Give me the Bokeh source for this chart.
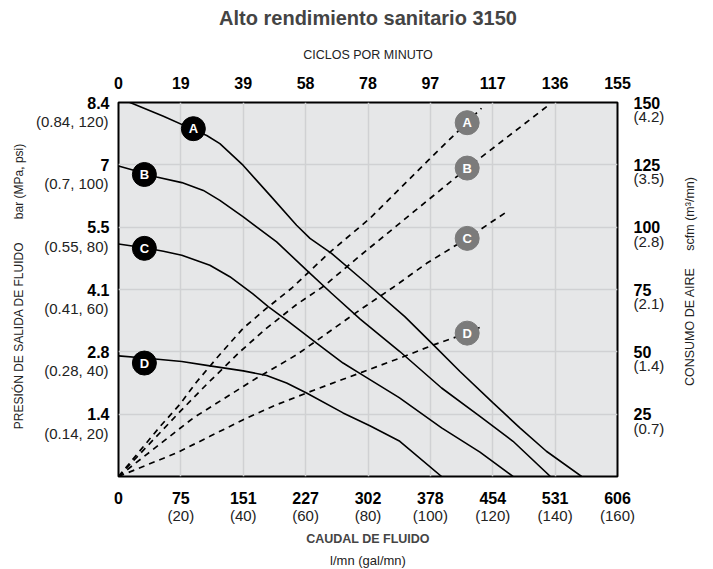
import math
from bokeh.plotting import figure
from bokeh.models import Range1d, LinearAxis, FixedTicker, Title
from bokeh.core.properties import value
from bokeh.embed import file_html
from bokeh.resources import INLINE

# ---------------- data ----------------
flow_gpm_ticks = [0, 20, 40, 60, 80, 100, 120, 140, 160]
flow_lpm_labels = ["0", "75", "151", "227", "302", "378", "454", "531", "606"]
flow_gpm_labels = ["", "(20)", "(40)", "(60)", "(80)", "(100)", "(120)", "(140)", "(160)"]
cycles_labels = ["0", "19", "39", "58", "78", "97", "117", "136", "155"]

psi_ticks = [20, 40, 60, 80, 100, 120]
bar_labels = ["1.4", "2.8", "4.1", "5.5", "7", "8.4"]
mpa_psi_labels = ["(0.14, 20)", "(0.28, 40)", "(0.41, 60)", "(0.55, 80)", "(0.7, 100)", "(0.84, 120)"]

scfm_ticks = [25, 50, 75, 100, 125, 150]
scfm_labels = ["25", "50", "75", "100", "125", "150"]
m3_labels = ["(0.7)", "(1.4)", "(2.1)", "(2.8)", "(3.5)", "(4.2)"]

# fluid pressure curves (gal/min, psi)
pres_A_flow = [0, 3.7, 14.4, 24, 28.3, 32.5, 40, 48.6, 57.1, 61.4, 68.3, 79.5, 91.8, 100.4, 109.5, 120.1, 128.7, 137.2, 148.5]
pres_A_psi = [121.5, 120, 115.6, 111.3, 109.4, 106.8, 99.8, 90.2, 80.6, 76.4, 71.6, 62.0, 51.3, 42.8, 33.7, 23.6, 15.6, 8.1, 0]
pres_B_flow = [0, 8.3, 12.2, 20.3, 27.2, 32.5, 40, 50.7, 60.3, 68.3, 77.5, 90.2, 103.6, 115.9, 126.5, 138.5]
pres_B_psi = [99.6, 97.3, 96.1, 94.3, 91.8, 88.6, 83.3, 75.3, 66.2, 58.8, 50.5, 40.1, 28.4, 19.3, 11.3, 0]
pres_C_flow = [0, 8.3, 14.4, 20.3, 29.3, 35.7, 43.2, 48, 53.9, 63.5, 72, 77.5, 90, 103.6, 115.9, 126.5]
pres_C_psi = [74.6, 73.4, 72.3, 71.0, 67.8, 64.1, 58.5, 54.5, 50.2, 42.8, 36.4, 33.0, 25.3, 15.6, 7.8, 0]
pres_D_flow = [0, 8.3, 20.3, 29.3, 40, 47.5, 53.9, 60.3, 72, 80.6, 90.2, 103.6]
pres_D_psi = [38.7, 38.0, 36.9, 35.5, 33.9, 32.4, 30.0, 26.8, 20.4, 16.3, 11.3, 0]

# air consumption curves (gal/min, scfm)
air_A_flow = [0, 13.3, 19.7, 25.1, 31.5, 40, 47.5, 55.5, 67.8, 80.6, 99.3, 116.4]
air_A_scfm = [0, 20, 29, 38, 47.5, 59.5, 67.5, 75.5, 90, 103.5, 126.8, 147.7]
air_B_flow = [0, 19.7, 28.3, 38.9, 47.5, 57.1, 66, 77.4, 111.8, 138.5]
air_B_scfm = [0, 26, 37, 50, 59.5, 69, 76.5, 88.5, 123.7, 149.5]
air_C_flow = [0, 24, 44.3, 57.1, 77.4, 88, 98.8, 111.8, 124.4]
air_C_scfm = [0, 23.5, 39.5, 48.8, 66.8, 75.8, 85.5, 95.5, 106.1]
air_D_flow = [0, 18.7, 29.3, 40, 50.7, 60.3, 72, 80.6, 91.3, 100.4, 111.8, 117.1]
air_D_scfm = [0, 9.5, 16.1, 22.8, 28.8, 33.5, 39.0, 43.0, 48.0, 52.5, 57.5, 60.5]

# curve markers
curve_letters = ["A", "B", "C", "D"]
pres_mark_flow = [24, 8.3, 8.3, 8.3]
pres_mark_psi = [111.6, 96.9, 73.2, 36.4]
air_mark_flow = [111.8, 111.8, 111.8, 111.8]
air_mark_scfm = [141.9, 123.7, 95.5, 57.5]

# right-hand axis title (starts at this pressure level, reads upward)
air_title = "CONSUMO DE AIRE" + "\u00a0" * 5 + "scfm (m³/mn)"
air_title_start_psi = 29

# ---------------- style ----------------
SANS = "Liberation Sans"
NB = "\u00a0"
PSI_SHIFT = 6.08     # 19 px at 120 psi / 375 px
SCFM_SHIFT = 5.6     # 14 px at 150 scfm / 375 px

p = figure(width=712, height=568, x_range=Range1d(0, 160), y_range=Range1d(0, 120),
           x_axis_location=None, y_axis_location=None,
           output_backend="svg", toolbar_location=None,
           min_border_left=118, min_border_right=95, min_border_top=102, min_border_bottom=91)
p.extra_y_ranges = {
    "scfm": Range1d(0, 150),
    "psi_sub": Range1d(PSI_SHIFT, 120 + PSI_SHIFT),
    "scfm_sub": Range1d(SCFM_SHIFT, 150 + SCFM_SHIFT),
}
p.background_fill_color = "#e6e7e8"
p.border_fill_color = "white"
p.outline_line_color = "black"
p.outline_line_width = 2
p.xgrid.ticker = FixedTicker(ticks=flow_gpm_ticks[1:-1])
p.ygrid.ticker = FixedTicker(ticks=psi_ticks[:-1])
p.grid.grid_line_color = "#d0d1d3"
p.grid.grid_line_width = 1.5


def style_axis(ax, bold, size, color="black"):
    ax.axis_line_color = None
    ax.major_tick_line_color = None
    ax.minor_tick_line_color = None
    ax.major_tick_out = 0
    ax.major_tick_in = 0
    ax.minor_tick_out = 0
    ax.major_label_text_font = SANS
    ax.major_label_text_font_size = size
    ax.major_label_text_font_style = "bold" if bold else "normal"
    ax.major_label_text_color = color
    ax.axis_label_text_font = SANS
    ax.axis_label_text_font_style = "normal"
    ax.axis_label_text_color = "#222222"
    ax.axis_label_text_font_size = "12px"


# bottom axes
ax_b1 = LinearAxis(ticker=FixedTicker(ticks=flow_gpm_ticks),
                   major_label_overrides=dict(zip(flow_gpm_ticks, flow_lpm_labels)))
style_axis(ax_b1, True, "16px")
ax_b1.major_label_standoff = 15
ax_b2 = LinearAxis(ticker=FixedTicker(ticks=flow_gpm_ticks),
                   major_label_overrides=dict(zip(flow_gpm_ticks, flow_gpm_labels)))
style_axis(ax_b2, False, "15px", "#222222")
ax_b2.major_label_standoff = 0
p.add_layout(ax_b1, "below")
p.add_layout(ax_b2, "below")
p.add_layout(Title(text="CAUDAL DE FLUIDO", align="center", vertical_align="middle", standoff=9,
                   text_font=SANS, text_font_style="bold", text_font_size="12.5px"), "below")
p.add_layout(Title(text="l/mn (gal/mn)", align="center", vertical_align="middle", standoff=0,
                   text_font=SANS, text_font_style="normal", text_font_size="13px",
                   text_color="#222222"), "below")

# top axis
ax_t = LinearAxis(ticker=FixedTicker(ticks=flow_gpm_ticks),
                  major_label_overrides=dict(zip(flow_gpm_ticks, cycles_labels)))
style_axis(ax_t, True, "16px")
ax_t.major_label_standoff = 14
p.add_layout(ax_t, "above")
p.add_layout(Title(text="CICLOS POR MINUTO", align="center", vertical_align="bottom", standoff=24,
                   text_font=SANS, text_font_style="normal", text_font_size="12.5px",
                   text_color="#222222"), "above")
p.add_layout(Title(text="Alto rendimiento sanitario 3150", align="center", vertical_align="top", standoff=6,
                   text_font=SANS, text_font_style="bold", text_font_size="20px"), "above")

# left axes: bar (bold) and (MPa, psi) below each value
ax_l1 = LinearAxis(ticker=FixedTicker(ticks=psi_ticks),
                   major_label_overrides=dict(zip(psi_ticks, bar_labels)))
style_axis(ax_l1, True, "16px")
ax_l1.major_label_standoff = 9
ax_l2 = LinearAxis(y_range_name="psi_sub", ticker=FixedTicker(ticks=psi_ticks),
                   major_label_overrides=dict(zip(psi_ticks, mpa_psi_labels)),
                   axis_label=NB * 2 + "PRESIÓN DE SALIDA DE FLUIDO" + NB * 7 + "bar (MPa, psi)")
style_axis(ax_l2, False, "15px", "#222222")
ax_l2.major_label_standoff = -24
ax_l2.axis_label_standoff = 7
p.add_layout(ax_l1, "left")
p.add_layout(ax_l2, "left")

# right axes: scfm (bold), (m3/mn) below each value, then the vertical title
ax_r1 = LinearAxis(y_range_name="scfm", ticker=FixedTicker(ticks=scfm_ticks),
                   major_label_overrides=dict(zip(scfm_ticks, scfm_labels)))
style_axis(ax_r1, True, "16px")
ax_r1.major_label_standoff = 16
ax_r2 = LinearAxis(y_range_name="scfm_sub", ticker=FixedTicker(ticks=scfm_ticks),
                   major_label_overrides=dict(zip(scfm_ticks, m3_labels)))
style_axis(ax_r2, False, "15px", "#222222")
ax_r2.major_label_standoff = -30
ax_r3 = LinearAxis(ticker=FixedTicker(ticks=[air_title_start_psi]),
                   major_label_overrides={air_title_start_psi: air_title},
                   major_label_orientation=math.pi / 2)
style_axis(ax_r3, False, "12.5px", "#222222")
ax_r3.major_label_standoff = 23
p.add_layout(ax_r1, "right")
p.add_layout(ax_r2, "right")
p.add_layout(ax_r3, "right")

# curves
for fx, fy in [(pres_A_flow, pres_A_psi), (pres_B_flow, pres_B_psi),
               (pres_C_flow, pres_C_psi), (pres_D_flow, pres_D_psi)]:
    p.line(fx, fy, line_color="black", line_width=1.6)

for fx, fy in [(air_A_flow, air_A_scfm), (air_B_flow, air_B_scfm),
               (air_C_flow, air_C_scfm), (air_D_flow, air_D_scfm)]:
    p.line(fx, fy, y_range_name="scfm", line_color="black", line_width=1.7, line_dash="6 5")

# markers
p.scatter(pres_mark_flow, pres_mark_psi, size=24, fill_color="black", line_color="black")
p.text(pres_mark_flow, pres_mark_psi, text=curve_letters, text_align="center", text_baseline="middle",
       text_color="white", text_font=value(SANS), text_font_style="bold", text_font_size="13px")
p.scatter(air_mark_flow, air_mark_scfm, y_range_name="scfm", size=24, fill_color="#7b7b7b",
          line_color="#7b7b7b")
p.text(air_mark_flow, air_mark_scfm, y_range_name="scfm", text=curve_letters, text_align="center",
       text_baseline="middle", text_color="white", text_font=value(SANS), text_font_style="bold",
       text_font_size="13px")

open("out.html", "w").write(file_html(p, INLINE))
